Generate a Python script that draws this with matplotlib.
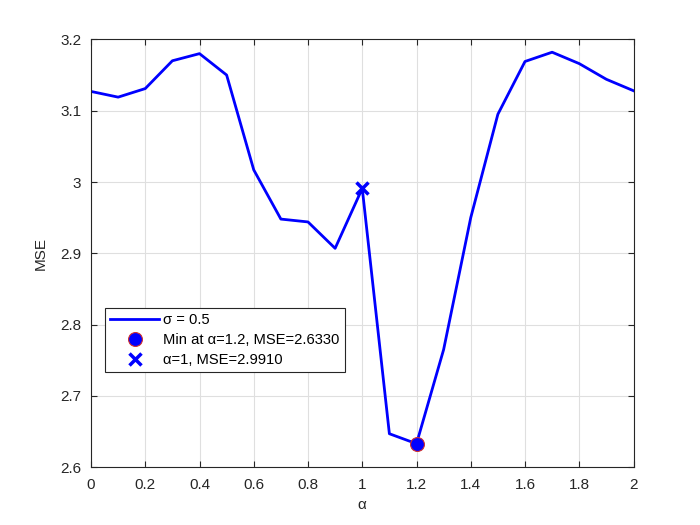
import numpy as np
import matplotlib.pyplot as plt

plt.rcParams['font.family'] = ['Liberation Sans', 'DejaVu Sans']

# MSE vs alpha, sigma = 0.5
alpha = [0.0, 0.1, 0.2, 0.3, 0.4, 0.5, 0.6, 0.7, 0.8, 0.9, 1.0,
         1.1, 1.2, 1.3, 1.4, 1.5, 1.6, 1.7, 1.8, 1.9, 2.0]
mse = [3.127, 3.119, 3.131, 3.170, 3.180, 3.150, 3.017, 2.948, 2.944, 2.907, 2.991,
       2.647, 2.633, 2.765, 2.950, 3.095, 3.169, 3.182, 3.166, 3.144, 3.128]

min_alpha, min_mse = 1.2, 2.6330
ref_alpha, ref_mse = 1.0, 2.9910

axc = '#262626'

fig = plt.figure(figsize=(7, 5.25), dpi=100)
ax = fig.add_axes([0.13, 0.11, 0.775, 0.815])

ax.plot(alpha, mse, color='#0000ff', lw=2, label='σ = 0.5')
ax.plot(min_alpha, min_mse, 'o', ms=10, mfc='#0000ff', mec='#d03030', mew=0.8,
        ls='none', label='Min at α=1.2, MSE=2.6330')
ax.plot(ref_alpha, ref_mse, 'x', ms=9, mew=2.5, color='#0000ff',
        ls='none', label='α=1, MSE=2.9910')

ax.set_xlim(0, 2)
ax.set_ylim(2.6, 3.2)
ax.set_xticks(np.arange(0, 2.01, 0.2))
ax.set_xticklabels(['0', '0.2', '0.4', '0.6', '0.8', '1', '1.2', '1.4', '1.6', '1.8', '2'])
ax.set_yticks(np.arange(2.6, 3.21, 0.1))
ax.set_yticklabels(['2.6', '2.7', '2.8', '2.9', '3', '3.1', '3.2'])
ax.grid(True, color='#dfdfdf', lw=0.8)
ax.set_axisbelow(True)
ax.tick_params(colors=axc, labelsize=11, direction='in', length=4, top=True, right=True,
               labeltop=False, labelright=False)
ax.tick_params(axis='x', pad=8)
ax.tick_params(axis='y', pad=7)
for s in ax.spines.values():
    s.set_color(axc)
    s.set_linewidth(0.8)

ax.set_xlabel('α', fontsize=11, color=axc, labelpad=4)
ax.set_ylabel('MSE', fontsize=11, color=axc, labelpad=9)

leg = ax.legend(loc='lower left', bbox_to_anchor=(0.026, 0.223), borderaxespad=0,
                fontsize=10.6, fancybox=False, framealpha=1, edgecolor=axc,
                handlelength=3.3, handletextpad=0.3, labelspacing=0.4, borderpad=0.35)
leg.get_frame().set_linewidth(0.8)

fig.savefig('out.png', dpi=100)
